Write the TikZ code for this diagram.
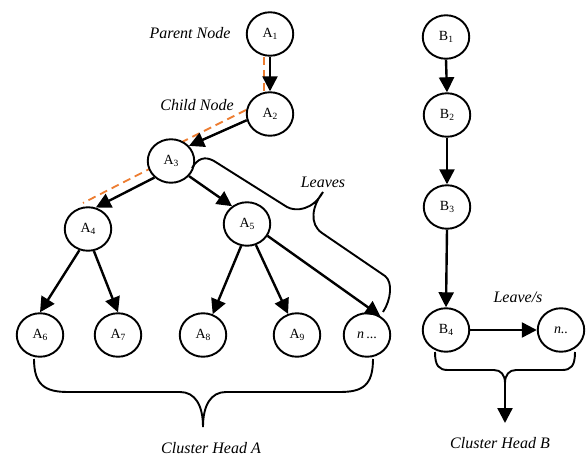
\documentclass[tikz,border=0pt]{standalone}
\usepackage{fontspec}
\setmainfont{Liberation Serif}
\usetikzlibrary{arrows.meta,shapes.geometric}
\definecolor{pathorange}{RGB}{237,125,49}
\newcommand{\nd}[2]{#1\raisebox{-0.35ex}{\fontsize{9.5}{9.5}\selectfont #2}}
\begin{document}
\begin{tikzpicture}[x=1pt,y=-1pt,
  tnode/.style={ellipse,draw,line width=1.9pt,fill=white,minimum width=46.5pt,minimum height=43.5pt,inner sep=0pt,font=\fontsize{14}{16}\selectfont},
  arr/.style={line width=2.4pt,-{Triangle[width=15pt,length=15pt]}},
  lbl/.style={font=\fontsize{16}{18}\selectfont\itshape,inner sep=0pt},
  bracket/.style={line width=1.9pt},
  trace/.style={pathorange,line width=1.8pt,dash pattern=on 8pt off 5pt}]
\useasboundingbox (0,0) rectangle (587,457);
% orange traversal trace, drawn first so the nodes cover it
\draw[trace] (264,57) -- (264,92);
\draw[trace] (246,110) -- (171,147.5);
\draw[trace] (165,161) -- (83,203);

% cluster A
\node[tnode] (A1) at (270,34) {\nd{A}{1}};
\node[tnode] (A2) at (270,114) {\nd{A}{2}};
\node[tnode] (A3) at (171,161) {\nd{A}{3}};
\node[tnode] (A4) at (88,229) {\nd{A}{4}};
\node[tnode] (A5) at (247,224) {\nd{A}{5}};
\node[tnode] (A6) at (40,335) {\nd{A}{6}};
\node[tnode] (A7) at (118,335) {\nd{A}{7}};
\node[tnode] (A8) at (203,335) {\nd{A}{8}};
\node[tnode] (A9) at (297,335) {\nd{A}{9}};
\node[tnode] (nA) at (367,335) {\textit{n}\,...};

% cluster B
\node[tnode] (B1) at (446,37) {\nd{B}{1}};
\node[tnode] (B2) at (447,115) {\nd{B}{2}};
\node[tnode] (B3) at (447,207) {\nd{B}{3}};
\node[tnode] (B4) at (446,330) {\nd{B}{4}};
\node[tnode] (nB) at (561,330) {\textit{n..}};

% edges of cluster A
\draw[arr] (A1.south) -- (A2.north);
\draw[arr] (A2.195) -- (A3.40);
\draw[arr] (A3.225) -- (A4.70);
\draw[arr] (A3.-40) -- (A5.130);
\draw[arr] (A4.-112) -- (A6.north);
\draw[arr] (A4.-75) -- (A7.north);
\draw[arr] (A5.-105) -- (A8.65);
\draw[arr] (A5.-67) -- (A9.113);
\draw[arr] (A5.-30) -- (nA.55);

% edges of cluster B
\draw[arr] (B1.south) -- (B2.north);
\draw[arr] (B2.south) -- (B3.north);
\draw[arr] (B3.south) -- (B4.north);
\draw[arr] (B4.east) -- (nB.west);

% leaves brace
\draw[bracket] (192,168) .. controls (198,158) and (205,156) .. (214,161)
  -- (287,207) .. controls (296,212) and (313,210) .. (323,192)
  .. controls (312,206) and (309,224) .. (322,233)
  -- (385,276) .. controls (393,282) and (391,300) .. (383,312);

% cluster head braces
\coordinate (tipA) at (203,427);
\draw[bracket] (34,359) .. controls (34,385) and (45,392) .. (68,392) -- (180,392)
  .. controls (195,392) and (203,405) .. (tipA)
  .. controls (203,405) and (211,392) .. (226,392) -- (340,392)
  .. controls (363,392) and (373,385) .. (373,359);
\coordinate (tipB) at (505,383);
\coordinate (headB) at (505,423);
\draw[bracket] (435,352) .. controls (435,366) and (439,370) .. (448,370) -- (494,370)
  .. controls (501,370) and (505,375) .. (tipB)
  .. controls (505,375) and (509,370) .. (516,370) -- (562,370)
  .. controls (571,370) and (575,366) .. (575,352);
\draw[arr] (tipB) -- (headB);

% labels
\node[lbl] (parent) at (190,33) {Parent Node};
\node[lbl] (child) at (197,105) {Child Node};
\node[lbl] (leaves) at (323,182) {Leaves};
\node[lbl] (leavess) at (518,297) {Leave/s};
\node[lbl] (headA) at (211,448) {Cluster Head A};
\node[lbl] (headBl) at (500,443) {Cluster Head B};
\end{tikzpicture}
\end{document}
